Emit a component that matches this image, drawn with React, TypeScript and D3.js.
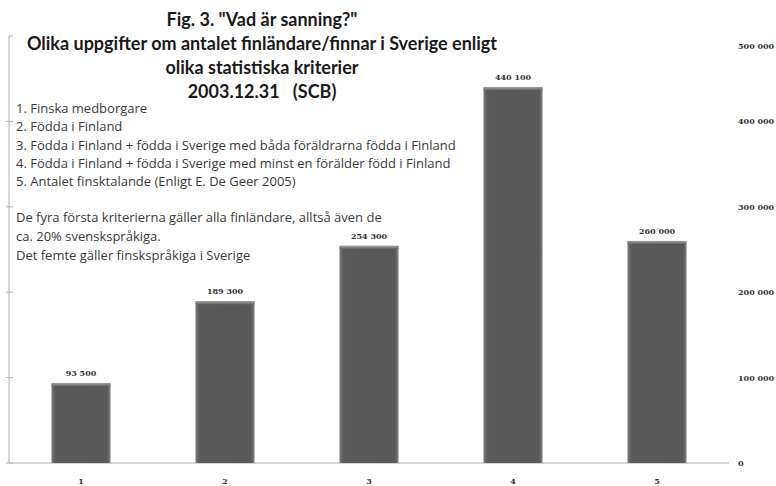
import React, { useEffect } from "react";
import * as d3 from "d3";

const categories = ["1", "2", "3", "4", "5"];
const values = [93500, 189300, 254300, 440100, 260000];
const yTicks = [0, 100000, 200000, 300000, 400000, 500000];
const titleLines = [
  'Fig. 3. "Vad är sanning?"',
  "Olika uppgifter om antalet finländare/finnar i Sverige enligt",
  "olika statistiska kriterier",
  "2003.12.31   (SCB)",
];
const legendLines = [
  "1. Finska medborgare",
  "2. Födda i Finland",
  "3. Födda i Finland + födda i Sverige med båda föräldrarna födda i Finland",
  "4. Födda i Finland + födda i Sverige med minst en förälder född i Finland",
  "5. Antalet finsktalande (Enligt E. De Geer 2005)",
];
const noteLines = [
  "De fyra första kriterierna gäller alla finländare, alltså även de",
  "ca. 20% svenskspråkiga.",
  "Det femte gäller finskspråkiga i Sverige",
];

const W = 776;
const H = 486;
const fmt = (v: number) => d3.format(",")(v).replace(/,/g, " ");

export default function App() {
  useEffect(() => {
    document.body.style.margin = "0";
  }, []);

  const x = d3
    .scaleBand<string>()
    .domain(categories)
    .range([9, 729])
    .paddingInner(0.59)
    .paddingOuter(0.295);
  const y = d3.scaleLinear().domain([0, 500000]).range([463, 36]);

  const numFont = "'DejaVu Serif', serif";
  const titleFont = "Lato, 'Open Sans', sans-serif";
  const txtFont = "'Open Sans', Lato, sans-serif";

  return (
    <svg width={W} height={H} style={{ display: "block", position: "absolute", left: 0, top: 0 }}>
      <defs>
        <linearGradient id="barH" x1="0" x2="1" y1="0" y2="0">
          <stop offset="0%" stopColor="#7e7e7e" />
          <stop offset="6%" stopColor="#5a5a5a" />
          <stop offset="94%" stopColor="#585858" />
          <stop offset="100%" stopColor="#7e7e7e" />
        </linearGradient>
        <linearGradient id="barTop" x1="0" x2="0" y1="0" y2="1">
          <stop offset="0%" stopColor="#a0a0a0" />
          <stop offset="100%" stopColor="#666" />
        </linearGradient>
      </defs>
      <rect width={W} height={H} fill="#ffffff" />

      {/* left axis */}
      <line x1={9} x2={9} y1={y(500000)} y2={y(0)} stroke="#b0b0b0" strokeWidth={1} />
      {yTicks.map((t) => (
        <line key={"lt" + t} x1={t === 500000 ? 9 : 6} x2={13} y1={y(t)} y2={y(t)} stroke="#b0b0b0" strokeWidth={1} />
      ))}
      {/* baseline */}
      <line x1={9} x2={729} y1={y(0)} y2={y(0)} stroke="#b0b0b0" strokeWidth={1} />

      {/* right axis labels */}
      {yTicks.map((t) => (
        <text
          key={"rl" + t}
          x={738}
          y={Math.max(y(t), 46) + 3}
          fontFamily={numFont}
          fontWeight="bold"
          fontSize={8}
          fill="#333"
        >
          {fmt(t)}
        </text>
      ))}

      {/* bars */}
      {values.map((v, i) => {
        const bx = x(categories[i])!;
        const bw = x.bandwidth();
        const top = y(v);
        return (
          <g key={"b" + i}>
            <rect x={bx} y={top} width={bw} height={y(0) - top} fill="url(#barH)" />
            <rect x={bx} y={top} width={bw} height={3} fill="url(#barTop)" />
            <text
              x={bx + bw / 2}
              y={top - 7}
              textAnchor="middle"
              fontFamily={numFont}
              fontWeight="bold"
              fontSize={8}
              fill="#333"
            >
              {fmt(v)}
            </text>
            <text
              x={bx + bw / 2}
              y={484}
              textAnchor="middle"
              fontFamily={numFont}
              fontWeight="bold"
              fontSize={8}
              fill="#333"
            >
              {categories[i]}
            </text>
          </g>
        );
      })}

      {/* title */}
      {titleLines.map((t, i) => (
        <text
          key={"t" + i}
          x={262}
          y={26 + i * 24}
          textAnchor="middle"
          fontFamily={titleFont}
          fontWeight="bold"
          fontSize={18}
          fill="#1a1a1a"
          style={{ whiteSpace: "pre" }}
        >
          {t}
        </text>
      ))}

      {/* legend */}
      {legendLines.map((t, i) => (
        <text key={"l" + i} x={16} y={113 + i * 18.3} fontFamily={txtFont} fontSize={13} fill="#3a3a3a">
          {t}
        </text>
      ))}
      {noteLines.map((t, i) => (
        <text key={"n" + i} x={16} y={222 + i * 19} fontFamily={txtFont} fontSize={13} fill="#3a3a3a">
          {t}
        </text>
      ))}
    </svg>
  );
}
